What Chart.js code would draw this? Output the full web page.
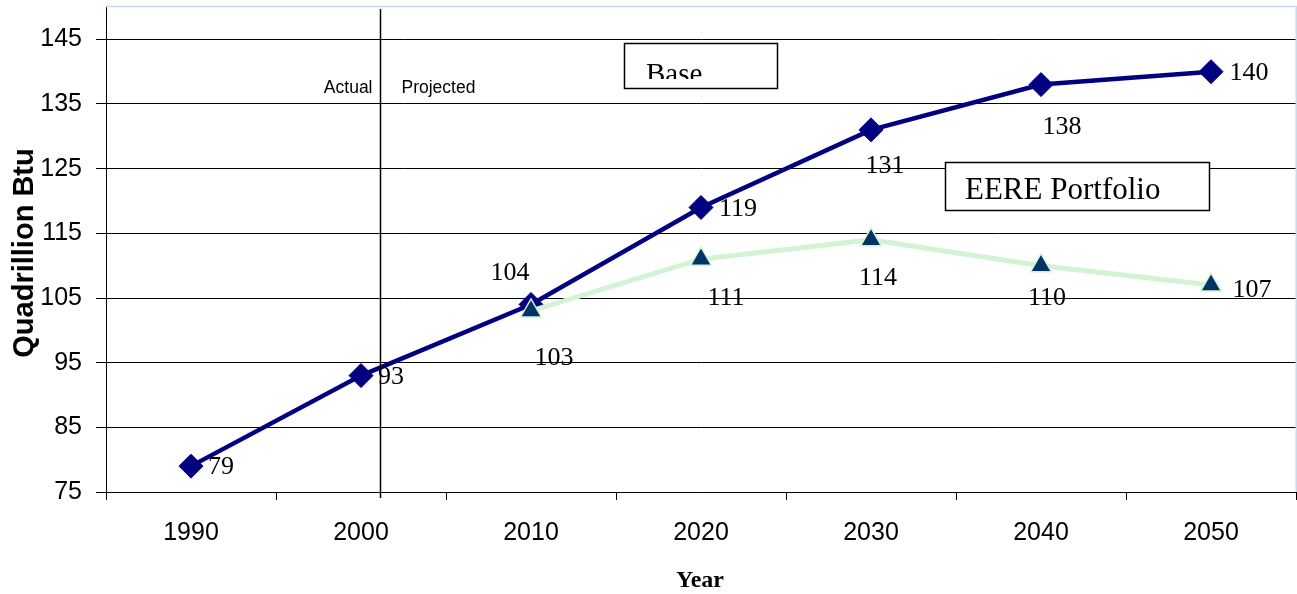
<!DOCTYPE html>
<html>
<head>
<meta charset="utf-8">
<script src="https://cdn.jsdelivr.net/npm/chart.js@4.4.1/dist/chart.umd.min.js"></script>
<style>
  html, body { margin: 0; padding: 0; background: #fff; overflow: hidden; }
  #wrap { width: 1297px; height: 594px; position: relative; }
</style>
</head>
<body>
<div id="wrap"><canvas id="energy" width="1297" height="594"></canvas></div>
<script>
// Primary energy use, quadrillion Btu
const years = ['1990', '2000', '2010', '2020', '2030', '2040', '2050'];
const baseCase = [79, 93, 104, 119, 131, 138, 140];
const eerePortfolio = [null, null, 103, 111, 114, 110, 107];
const yTickValues = [75, 85, 95, 105, 115, 125, 135, 145];
const yMin = 75;
const yMax = 150;

// label placement (pixel offsets of the label centre from its marker)
const baseLabelOffsets = [[30, 1], [30, 2], [-21, -31], [37, 2], [14, 36], [21, 43], [38, 2]];
const eereLabelOffsets = [null, null, [23, 47], [25, 39], [7, 38], [6, 33], [41, 5]];

const SANS = '"Liberation Sans", Arial, sans-serif';
const SERIF = '"Liberation Serif", "Times New Roman", serif';

const whiteBackground = {
  id: 'whiteBackground',
  beforeDraw(chart) {
    const ctx = chart.ctx;
    ctx.save();
    ctx.fillStyle = '#ffffff';
    ctx.fillRect(0, 0, chart.width, chart.height);
    ctx.restore();
  }
};

const annotations = {
  id: 'annotations',
  afterDatasetsDraw(chart) {
    const { ctx, chartArea, scales } = chart;
    const x = scales.x;

    ctx.save();
    // pale frame along the top and right of the plot
    ctx.strokeStyle = '#c6daf2';
    ctx.lineWidth = 1.5;
    ctx.beginPath();
    ctx.moveTo(chartArea.left, chartArea.top - 0.5);
    ctx.lineTo(chart.width, chartArea.top - 0.5);
    ctx.moveTo(chartArea.right + 0.25, chartArea.top - 0.5);
    ctx.lineTo(chartArea.right + 0.25, chartArea.bottom);
    ctx.stroke();

    // divider between historical and projected years
    const x2000 = x.getPixelForValue(1);
    const x2010 = x.getPixelForValue(2);
    const divX = Math.round(x2000 + (x2010 - x2000) * 0.11) + 0.5;
    ctx.strokeStyle = '#000';
    ctx.lineWidth = 1.5;
    ctx.beginPath();
    ctx.moveTo(divX, chartArea.top + 2);
    ctx.lineTo(divX, chartArea.bottom + 6);
    ctx.stroke();

    ctx.fillStyle = '#000';
    ctx.font = '17.5px ' + SANS;
    ctx.textBaseline = 'middle';
    ctx.textAlign = 'right';
    ctx.fillText('Actual', divX - 8, 88);
    ctx.textAlign = 'left';
    ctx.fillText('Projected', divX + 21, 88);

    // value labels
    ctx.font = '26px ' + SERIF;
    ctx.textAlign = 'center';
    ctx.textBaseline = 'middle';
    const drawLabels = (dsIndex, values, offsets) => {
      const meta = chart.getDatasetMeta(dsIndex);
      meta.data.forEach((pt, i) => {
        if (values[i] == null || !offsets[i]) return;
        ctx.fillText(String(values[i]), pt.x + offsets[i][0], pt.y + offsets[i][1]);
      });
    };
    drawLabels(0, baseCase, baseLabelOffsets);
    drawLabels(1, eerePortfolio, eereLabelOffsets);

    // series caption boxes
    ctx.lineWidth = 1.5;
    ctx.strokeStyle = '#000';
    ctx.fillStyle = '#fff';
    ctx.fillRect(624, 43, 153, 45);
    ctx.strokeRect(624.5, 43.5, 153, 45);
    ctx.fillRect(945, 162, 264, 48);
    ctx.strokeRect(945.5, 162.5, 264, 48);

    ctx.fillStyle = '#000';
    ctx.textAlign = 'left';
    ctx.textBaseline = 'alphabetic';
    ctx.save();
    ctx.beginPath();
    ctx.rect(626, 45, 150, 34);
    ctx.clip();
    ctx.font = '29px ' + SERIF;
    ctx.fillText('Base', 646, 83);
    ctx.restore();

    ctx.font = '31px ' + SERIF;
    ctx.fillText('EERE Portfolio', 965, 199);
    ctx.restore();
  },
  afterDraw(chart) {
    const ctx = chart.ctx;
    ctx.save();
    ctx.fillStyle = '#000';
    ctx.textAlign = 'center';
    ctx.textBaseline = 'middle';
    ctx.font = 'bold 24px ' + SERIF;
    ctx.fillText('Year', 700, 581);
    ctx.translate(25, 253);
    ctx.rotate(-Math.PI / 2);
    ctx.font = 'bold 29px ' + SANS;
    ctx.fillText('Quadrillion Btu', 0, 0);
    ctx.restore();
  }
};

new Chart(document.getElementById('energy'), {
  type: 'line',
  data: {
    labels: years,
    datasets: [
      {
        label: 'Base',
        data: baseCase,
        order: 1,
        borderColor: '#000080',
        borderWidth: 4.5,
        tension: 0,
        pointStyle: 'rectRot',
        pointRadius: 12,
        pointBackgroundColor: '#000080',
        pointBorderColor: '#000080',
        pointBorderWidth: 1
      },
      {
        label: 'EERE Portfolio',
        data: eerePortfolio,
        order: 0,
        borderColor: '#d4f2d4',
        borderWidth: 5,
        tension: 0,
        pointStyle: 'triangle',
        pointRadius: 12,
        pointBackgroundColor: '#003366',
        pointBorderColor: '#d4f2d4',
        pointBorderWidth: 1.5
      }
    ]
  },
  options: {
    responsive: false,
    animation: false,
    events: [],
    layout: { autoPadding: false, padding: { top: 7, right: 1, left: 0, bottom: 0 } },
    plugins: {
      legend: { display: false },
      tooltip: { enabled: false }
    },
    scales: {
      x: {
        type: 'category',
        offset: true,
        afterFit(scale) {
          scale.height = 102;
          scale.paddingLeft = 0;
          scale.paddingRight = 0;
        },
        grid: {
          offset: true,
          drawOnChartArea: false,
          drawTicks: true,
          tickLength: 8,
          color: '#000',
          lineWidth: 1
        },
        border: { display: true, color: '#000', width: 1 },
        ticks: {
          color: '#000',
          font: { family: SANS, size: 25 },
          padding: 18,
          maxRotation: 0,
          autoSkip: false
        }
      },
      y: {
        min: yMin,
        max: yMax,
        afterFit(scale) {
          scale.width = 106;
          scale.paddingTop = 0;
          scale.paddingBottom = 0;
        },
        afterBuildTicks(scale) {
          scale.ticks = yTickValues.map(v => ({ value: v }));
        },
        grid: {
          color: '#000',
          lineWidth: 1,
          drawTicks: true,
          tickLength: 10
        },
        border: { display: true, color: '#000', width: 1 },
        ticks: {
          color: '#000',
          font: { family: SANS, size: 25 },
          padding: 14
        }
      }
    }
  },
  plugins: [whiteBackground, annotations]
});
</script>
</body>
</html>
